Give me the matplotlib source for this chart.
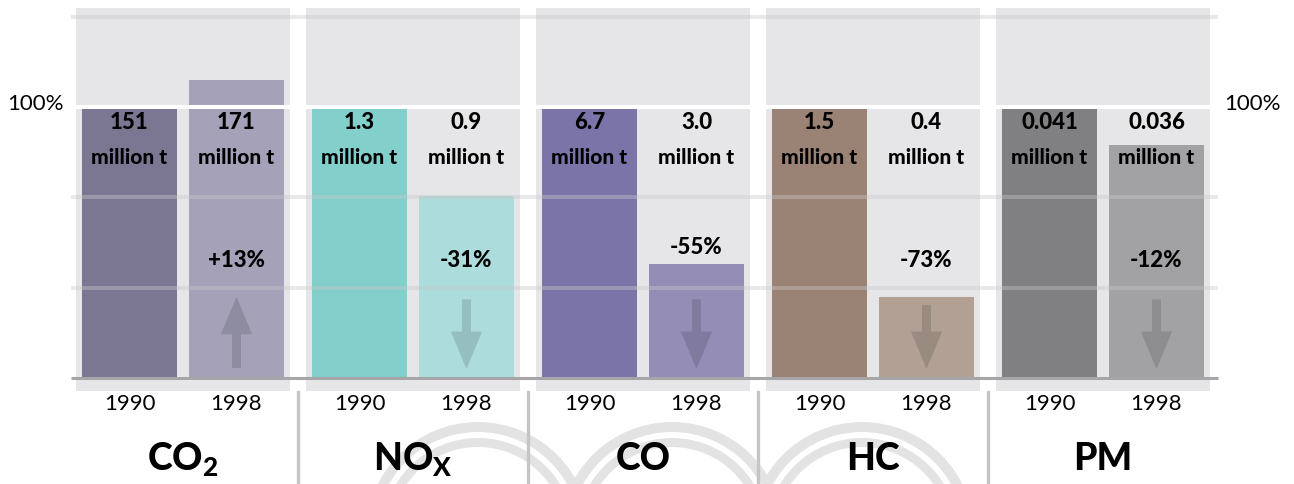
import matplotlib
matplotlib.use('Agg')
import matplotlib.pyplot as plt
from matplotlib.patches import Rectangle, Wedge
from matplotlib.transforms import IdentityTransform

plt.rcParams['font.family'] = ['Lato', 'DejaVu Sans']
plt.rcParams['mathtext.fontset'] = 'custom'
plt.rcParams['mathtext.rm'] = 'Lato'
plt.rcParams['mathtext.bf'] = 'Lato:black'

# data
pollutants = [r'$\mathbf{CO_2}$', r'$\mathbf{NO_X}$', 'CO', 'HC', 'PM']
years = ['1990', '1998']
amount_1990 = ['151', '1.3', '6.7', '1.5', '0.041']
amount_1998 = ['171', '0.9', '3.0', '0.4', '0.036']
change = ['+13%', '-31%', '-55%', '-73%', '-12%']
share_1990 = [1.0, 1.0, 1.0, 1.0, 1.0]
share_1998 = [1.10, 0.67, 0.42, 0.30, 0.86]   # bar height as drawn, 1990 = 100%

colors_1990 = ['#7b7793', '#82cfcc', '#7a74a8', '#9a8275', '#808083']
colors_1998 = ['#a4a1b8', '#acdcdb', '#948db6', '#b2a094', '#a2a2a5']
pct_y = [0.435, 0.435, 0.48, 0.435, 0.435]

fig = plt.figure(figsize=(12.94, 4.84), dpi=100)
ax = fig.add_axes([0, 0, 1, 1])
ax.set_xlim(-183 / 230, (1294 - 183) / 230)
ax.set_ylim(-106 / 271, (484 - 106) / 271)
ax.axis('off')

off = 0.2326
bw = 0.413
bold = 'black'

# faint logo rings behind the names (pixel coords)
for cx in [478, 672, 862]:
    for r, w in [(112, 10), (96, 9)]:
        ax.add_patch(Wedge((cx, 484 - 534), r, 0, 180, width=w, facecolor='#e3e3e3',
                           lw=0, zorder=0, transform=IdentityTransform()))

for i in range(len(pollutants)):
    # grey panel
    ax.add_patch(Rectangle((i - 0.467, -0.048), 0.934, 1.413, color='#e6e6e8', lw=0, zorder=1))
    ax.bar(i - off, share_1990[i], bw, color=colors_1990[i], zorder=2)
    ax.bar(i + off, share_1998[i], bw, color=colors_1998[i], zorder=2)

    # amounts
    for x, val in [(i - off, amount_1990[i]), (i + off, amount_1998[i])]:
        ax.text(x, 0.941, val, ha='center', va='center', fontsize=16, fontweight=bold, zorder=6)
        ax.text(x, 0.812, 'million t', ha='center', va='center', fontsize=15, fontweight=bold, zorder=6)

    ax.text(i + off, pct_y[i], change[i], ha='center', va='center', fontsize=16, fontweight=bold, zorder=6)

    # arrow
    if share_1998[i] > share_1990[i]:
        tail, tip = 0.037, 0.30
    else:
        tail, tip = min(0.29, share_1998[i] - 0.03), 0.033
    ax.annotate('', xy=(i + off, tip), xytext=(i + off, tail),
                arrowprops=dict(arrowstyle='simple,head_length=2.7,head_width=2.25,tail_width=0.65',
                                mutation_scale=10, color='black', alpha=0.13, lw=0,
                                shrinkA=0, shrinkB=0), zorder=3)

    for x, yr in [(i - off, years[0]), (i + off, years[1])]:
        ax.text(x, -0.096, yr, ha='center', va='center', fontsize=16)

    ax.text(i, -0.34, pollutants[i], ha='center', va='baseline', fontsize=27, fontweight=bold, zorder=6)

    if i > 0:
        ax.plot([i - 0.5, i - 0.5], [-0.052, -0.4], color='#c5c5c7', lw=2.4, zorder=1)

# grid lines
for g in [1 / 3, 2 / 3, 4 / 3]:
    ax.plot([-0.487, 4.5], [g, g], color='#c8c8ca', alpha=0.4, lw=2.9, zorder=3, solid_capstyle='butt')
ax.plot([-0.487, 4.5], [1.0, 1.0], color='white', lw=2.9, zorder=3, solid_capstyle='butt')
ax.plot([-0.487, 4.5], [0, 0], color='#a6a6a8', lw=2.2, zorder=4, solid_capstyle='butt')

ax.text(-0.643, 1.01, '100%', ha='center', va='center', fontsize=16)
ax.text(4.648, 1.01, '100%', ha='center', va='center', fontsize=16)

fig.savefig('out.png', dpi=100)
